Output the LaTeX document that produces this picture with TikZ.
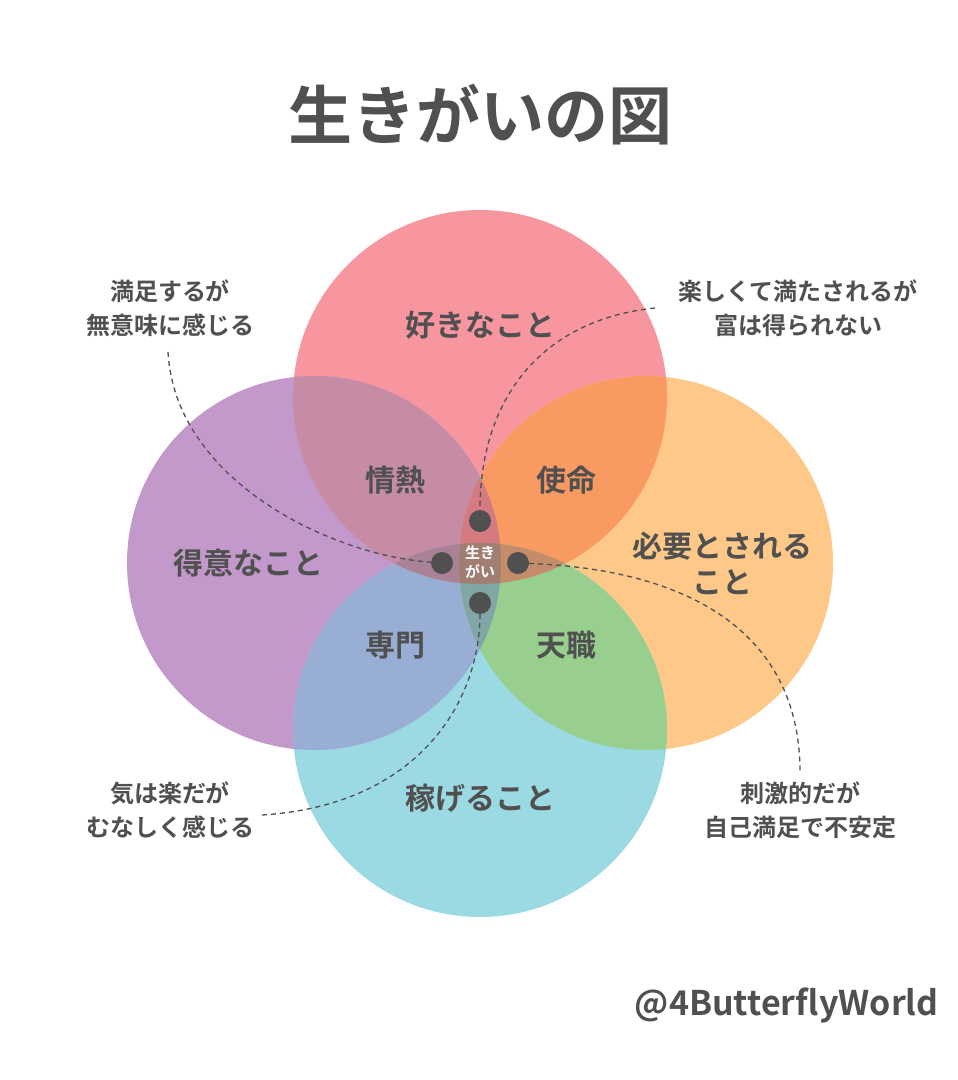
\documentclass[tikz,border=0pt]{standalone}
\usepackage{fontspec}
\setmainfont{Noto Sans CJK JP}
\newfontfamily\cjkb{Noto Sans CJK JP Bold}
\usetikzlibrary{positioning}
\definecolor{txtgray}{HTML}{505050}
\definecolor{likepink}{HTML}{F8969F}
\definecolor{goodpurple}{HTML}{C398CA}
\definecolor{needorange}{HTML}{FEC888}
\definecolor{paycyan}{HTML}{9BD9E3}
\definecolor{passioncol}{HTML}{C68CA6}
\definecolor{missioncol}{HTML}{F99A62}
\definecolor{professioncol}{HTML}{98AED4}
\definecolor{vocationcol}{HTML}{98CF8E}
\definecolor{coretop}{HTML}{D47A80}
\definecolor{corebot}{HTML}{80A6A6}
\definecolor{coreleft}{HTML}{A98297}
\definecolor{coreright}{HTML}{C58C6A}
\definecolor{corecol}{HTML}{A07F72}
\tikzset{
  ring/.style={fill=#1,draw=none},
  area/.style={text=txtgray,font=\cjkb\fontsize{30}{36}\selectfont,align=center},
  note/.style={text=txtgray,font=\cjkb\fontsize{24}{34}\selectfont,align=center},
  dot/.style={circle,fill=txtgray,minimum size=22pt,inner sep=0pt},
  lead/.style={txtgray,dash pattern=on 5pt off 4pt,line width=1.3pt},
}
\newcommand\likeC{(480,397) circle (187)}
\newcommand\goodC{(314,563) circle (187)}
\newcommand\needC{(646,563) circle (187)}
\newcommand\payC{(480,730) circle (187)}
\newcommand\lens[3]{\begin{scope}\clip #1;\fill[#3] #2;\end{scope}}
\newcommand\halflens[4]{\begin{scope}\clip #1;\clip #2;\fill[#4] #3;\end{scope}}
\begin{document}
\begin{tikzpicture}[x=1pt,y=-1pt]
\useasboundingbox[fill=white] (0,0) rectangle (958,1080);
% title
\node[text=txtgray,font=\cjkb\fontsize{64}{70}\selectfont] (title) at (480,115) {生きがいの図};
% circles
\fill[ring=likepink] \likeC;
\fill[ring=goodpurple] \goodC;
\fill[ring=needorange] \needC;
\fill[ring=paycyan] \payC;
% overlaps
\lens{\likeC}{\goodC}{passioncol}
\lens{\likeC}{\needC}{missioncol}
\lens{\payC}{\goodC}{professioncol}
\lens{\payC}{\needC}{vocationcol}
\lens{\likeC}{\payC}{coreright}
\halflens{\likeC}{\payC}{(380,500) rectangle (480,620)}{coreleft}
\lens{\goodC}{\needC}{corebot}
\halflens{\goodC}{\needC}{(400,480) rectangle (560,563)}{coretop}
\begin{scope}
\clip \likeC; \clip \payC; \clip \goodC; \fill[corecol] \needC;
\end{scope}
% area labels
\node[area] (like) at (480,325) {好きなこと};
\node[area] (good) at (248,563) {得意なこと};
\node[area] (need) at (722,563) {必要とされる\\こと};
\node[area] (pay) at (480,798) {稼げること};
\node[area] (passion) at (395,480) {情熱};
\node[area] (mission) at (566,480) {使命};
\node[area] (profession) at (395,645) {専門};
\node[area] (vocation) at (566,645) {天職};
% dots
\node[dot] (dtop) at (480,521) {};
\node[dot] (dleft) at (442,563) {};
\node[dot] (dright) at (518,563) {};
\node[dot] (dbot) at (480,603) {};
\node[text=white,font=\cjkb\fontsize{15}{19}\selectfont,align=center] (ikigai) at (480,562) {生き\\がい};
% callouts
\node[note] (nleft) at (170,308) {満足するが\\無意味に感じる};
\node[note] (nright) at (798,308) {楽しくて満たされるが\\富は得られない};
\node[note] (nbl) at (170,810) {気は楽だが\\むなしく感じる};
\node[note] (nbr) at (800,810) {刺激的だが\\自己満足で不安定};
\draw[lead] (168,352) .. controls (175,480) and (330,555) .. (dleft);
\draw[lead] (655,308) .. controls (540,320) and (480,400) .. (dtop);
\draw[lead] (dright) .. controls (700,570) and (800,640) .. (800,772);
\draw[lead] (262,815) .. controls (420,805) and (480,700) .. (dbot);
% credit
\node[text=txtgray,font=\cjkb\fontsize{34}{38}\selectfont,anchor=east] (credit) at (942,1005) {@4ButterflyWorld};
\end{tikzpicture}
\end{document}
